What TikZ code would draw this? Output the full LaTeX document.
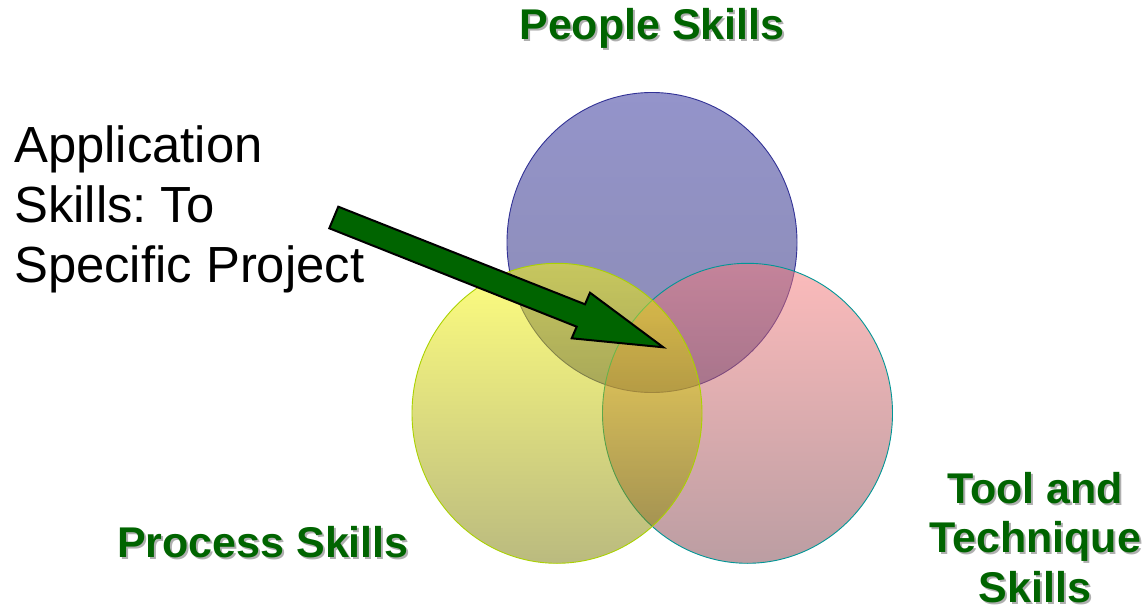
\documentclass[tikz,border=0pt]{standalone}
\usepackage{fontspec}
\setmainfont{Liberation Sans}
\usetikzlibrary{shapes.geometric}
\definecolor{purpT}{RGB}{41,41,150}
\definecolor{purpB}{RGB}{25,25,105}
\definecolor{purpE}{RGB}{50,50,150}
\definecolor{yelT}{RGB}{255,255,0}
\definecolor{yelB}{RGB}{118,118,0}
\definecolor{yelE}{RGB}{170,210,0}
\definecolor{pinkT}{RGB}{250,120,120}
\definecolor{pinkB}{RGB}{120,60,70}
\definecolor{pinkE}{RGB}{0,150,150}
\definecolor{lblgreen}{RGB}{0,100,0}
\definecolor{shadowgray}{RGB}{175,175,175}
\frenchspacing
\begin{document}
\begin{tikzpicture}[x=1pt,y=-1pt,
  venn/.style={ellipse,minimum width=290pt,minimum height=300pt,inner sep=0pt,line width=0.9pt,fill opacity=0.5},
  lbl/.style={font=\bfseries\fontsize{43}{49.5}\selectfont,text=lblgreen,inner sep=0pt,align=center},
  lblsh/.style={font=\bfseries\fontsize{43}{49.5}\selectfont,text=shadowgray,inner sep=0pt,align=center},
  apptext/.style={font=\fontsize{50.8}{60}\selectfont,inner sep=0pt,anchor=base west}]
\useasboundingbox (0,0) rectangle (1146,612);
% circles
\node[venn,draw=purpE,top color=purpT,bottom color=purpB] (people) at (652,242.5) {};
\node[venn,draw=pinkE,top color=pinkT,bottom color=pinkB] (tool) at (747.5,413.3) {};
\node[venn,draw=yelE,top color=yelT,bottom color=yelB] (process) at (557,413.3) {};
% labels with shadow
\node[lblsh,anchor=base] at (654,42) {People Skills};
\node[lbl,anchor=base] (lpeople) at (652,40) {People Skills};
\node[lblsh,anchor=base] at (265,559) {Process Skills};
\node[lbl,anchor=base] (lprocess) at (263,557) {Process Skills};
\node[lblsh,anchor=base] at (1037,505) {Tool and};
\node[lbl,anchor=base] (ltool1) at (1035,503) {Tool and};
\node[lblsh,anchor=base] at (1037,554) {Technique};
\node[lbl,anchor=base] (ltool2) at (1035,552) {Technique};
\node[lblsh,anchor=base] at (1037,604) {Skills};
\node[lbl,anchor=base] (ltool3) at (1035,602) {Skills};
% application text
\node[apptext] (app1) at (14,163) {Application};
\node[apptext] (app2) at (14,223) {Skills: To};
\node[apptext] (app3) at (14,283) {Specific Project};
% arrow
\coordinate (t1) at (338.3,206.7);
\coordinate (s1) at (585,304.3);
\coordinate (b1) at (590,292.7);
\coordinate (tip) at (663.3,347.3);
\coordinate (b2) at (571.7,338.3);
\coordinate (s2) at (576.7,326.7);
\coordinate (t2) at (329.3,228.3);
\draw[fill=lblgreen,line width=2pt,line join=miter] (t1) -- (s1) -- (b1) -- (tip) -- (b2) -- (s2) -- (t2) -- cycle;
\end{tikzpicture}
\end{document}
